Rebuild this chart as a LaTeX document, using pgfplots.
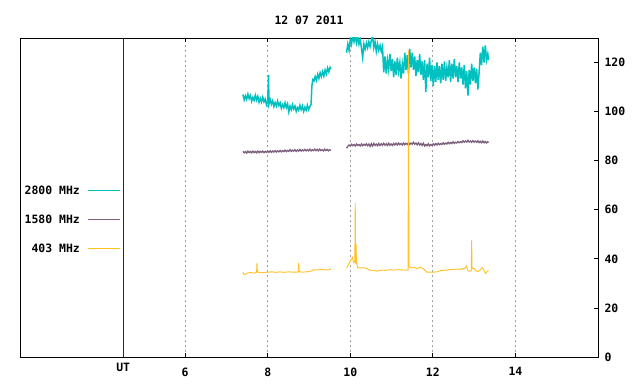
\documentclass[border=0pt]{standalone}
\usepackage{fontspec}
\setmainfont{DejaVu Sans Mono}
\usepackage{pgfplots}
\pgfplotsset{compat=1.18}
\definecolor{cteal}{RGB}{0,192,192}
\definecolor{cpurp}{RGB}{125,95,125}
\definecolor{cgold}{RGB}{255,192,32}
\definecolor{cut}{RGB}{140,0,0}
\definecolor{cgrid}{RGB}{160,160,160}
\begin{document}
\begin{tikzpicture}[font=\bfseries\fontsize{11.5}{13}\selectfont]
\begin{axis}[name=ax, scale only axis, width=578bp, height=319bp,
 xmin=2, xmax=16, ymin=0, ymax=130,
 xtick={6,8,10,12,14}, ytick={0,20,40,60,80,100,120},
 ytick pos=right, yticklabel pos=right,
 tick align=inside, major tick length=4bp,
 tick style={black, line width=0.8bp},
 xmajorgrids, grid style={cgrid, dash pattern=on 2bp off 3bp, line width=0.8bp},
 axis line style={line width=0.8bp},
 /pgf/number format/assume math mode=true,
 xticklabel style={yshift=-7bp},
 yticklabel style={xshift=3bp},
 extra x ticks={4.5}, extra x tick labels={UT},
 extra x tick style={grid=none, major tick length=0pt, xticklabel style={yshift=4.5bp}},
 title={12 07 2011}, title style={at={(0.5,1)}, anchor=base, yshift=7.5bp},
 unbounded coords=jump,
 every axis plot/.append style={line width=0.9bp, mark=none},
]
\addplot[cut, line width=0.8bp, forget plot] coordinates {(4.5,0) (4.5,130)};
% 2800 MHz
\addplot[cteal, line width=1.5bp] coordinates {
(7.40,107.0)(7.43,104.8)(7.46,106.4)(7.49,105.0)(7.52,107.1)(7.55,105.3)(7.58,106.5)(7.61,104.3)(7.64,105.8)(7.67,104.6)
(7.70,106.7)(7.73,104.7)(7.76,106.2)(7.79,103.8)(7.82,105.4)(7.85,103.9)(7.88,105.9)(7.91,104.0)(7.94,105.1)(7.97,102.8)
(8.00,104.2)(8.02,115.0)(8.03,103.0)(8.06,104.9)(8.09,103.0)(8.12,104.4)(8.15,102.1)(8.18,103.7)(8.21,102.3)(8.24,104.3)
(8.27,102.5)(8.30,103.6)(8.33,101.4)(8.36,102.8)(8.39,101.6)(8.42,103.6)(8.45,101.6)(8.48,103.1)(8.51,99.9)(8.54,102.3)
(8.57,100.8)(8.60,102.8)(8.63,101.1)(8.66,102.3)(8.69,100.1)(8.72,101.6)(8.75,100.5)(8.78,102.6)(8.81,100.8)(8.84,102.3)
(8.87,100.1)(8.90,101.8)(8.93,100.5)(8.96,102.6)(8.99,100.8)(9.02,102.0)(9.05,103.0)(9.07,110.5)(9.09,113.0)(9.12,112.5)
(9.15,114.3)(9.18,112.8)(9.21,115.2)(9.24,113.5)(9.27,115.9)(9.30,114.3)(9.33,116.3)(9.36,114.5)(9.39,116.9)(9.42,115.4)
(9.45,117.8)(9.48,116.2)(9.51,118.0)(9.53,117.3)
(9.70,nan)
(9.91,124.0)(9.94,127.5)(9.97,125.0)(10.00,129.5)(10.03,127.5)(10.06,131.0)(10.09,128.5)(10.12,131.0)(10.15,128.0)(10.18,130.5)
(10.21,127.5)(10.24,129.5)(10.27,126.0)(10.30,122.0)(10.33,127.5)(10.36,125.5)(10.39,128.0)(10.42,126.0)(10.45,128.5)(10.48,126.5)
(10.51,129.0)(10.54,131.0)(10.57,126.0)(10.60,128.5)(10.63,124.5)(10.66,127.5)(10.69,125.0)(10.72,127.0)(10.75,124.5)(10.78,126.5)
(10.81,116.0)(10.84,122.5)(10.87,115.5)(10.90,121.0)(10.93,117.0)(10.96,123.5)(10.99,116.5)(11.02,121.5)(11.05,114.0)(11.08,120.5)
(11.11,115.0)(11.14,122.0)(11.17,116.5)(11.20,120.0)(11.23,113.5)(11.26,119.5)(11.29,115.5)(11.32,124.0)(11.35,117.0)(11.38,123.0)
(11.41,115.5)(11.44,125.5)(11.47,118.0)(11.50,124.0)(11.53,117.0)(11.56,122.5)(11.59,114.5)(11.62,121.0)(11.65,116.0)(11.68,123.5)
(11.71,115.0)(11.74,120.5)(11.77,113.0)(11.80,121.0)(11.83,108.0)(11.86,119.5)(11.89,114.0)(11.92,122.0)(11.95,112.5)(11.98,119.0)
(12.01,110.5)(12.04,118.5)(12.07,112.0)(12.10,120.0)(12.13,113.0)(12.16,118.5)(12.19,111.5)(12.22,119.5)(12.25,113.0)(12.28,120.5)
(12.31,112.5)(12.34,118.0)(12.37,114.0)(12.40,121.0)(12.43,112.0)(12.46,119.5)(12.49,113.5)(12.52,121.5)(12.55,114.0)(12.58,118.5)
(12.61,112.0)(12.64,120.0)(12.67,113.5)(12.70,118.0)(12.73,111.0)(12.76,119.0)(12.79,109.5)(12.82,116.5)(12.85,106.5)(12.88,117.0)
(12.91,111.0)(12.94,119.5)(12.97,112.5)(13.00,118.0)(13.03,111.5)(13.06,117.5)(13.09,109.0)(13.12,116.0)(13.15,124.0)(13.18,119.0)
(13.21,126.5)(13.24,120.0)(13.27,127.0)(13.30,121.0)(13.33,123.5)(13.35,121.0)
};
% 1580 MHz
\addplot[cpurp, line width=1.3bp] coordinates {
(7.40,83.8)(7.43,83.2)(7.46,83.7)(7.49,83.1)(7.52,83.9)(7.55,83.3)(7.58,83.8)(7.61,83.2)(7.64,83.9)(7.67,83.3)
(7.70,83.8)(7.73,83.2)(7.76,83.9)(7.79,83.3)(7.82,83.8)(7.85,83.4)(7.88,83.9)(7.91,83.3)(7.94,83.8)(7.97,83.4)
(8.00,83.9)(8.03,83.4)(8.06,84.0)(8.09,83.4)(8.12,84.0)(8.15,83.5)(8.18,84.1)(8.21,83.5)(8.24,84.0)(8.27,83.6)
(8.30,84.2)(8.33,83.6)(8.36,84.1)(8.39,83.7)(8.42,84.3)(8.45,83.7)(8.48,84.2)(8.51,83.8)(8.54,84.5)(8.57,83.8)
(8.60,84.3)(8.63,83.9)(8.66,84.5)(8.69,83.8)(8.72,84.4)(8.75,83.9)(8.78,84.6)(8.81,83.9)(8.84,84.4)(8.87,84.0)
(8.90,84.6)(8.93,84.0)(8.96,84.5)(8.99,84.0)(9.02,84.7)(9.05,84.0)(9.08,84.5)(9.11,84.1)(9.14,84.7)(9.17,84.1)
(9.20,84.6)(9.23,84.0)(9.26,84.7)(9.29,84.1)(9.32,84.5)(9.35,84.0)(9.38,84.7)(9.41,84.1)(9.44,84.6)(9.47,84.0)
(9.50,84.5)(9.53,84.2)
(9.70,nan)
(9.91,85.1)(9.94,85.9)(9.97,86.4)(10.00,86.0)(10.03,86.7)(10.06,86.1)(10.09,86.6)(10.12,86.0)(10.15,86.8)(10.18,86.2)
(10.21,86.6)(10.24,86.0)(10.27,86.8)(10.30,86.1)(10.33,86.7)(10.36,86.2)(10.39,86.9)(10.42,86.1)(10.45,86.8)(10.48,85.8)
(10.51,86.9)(10.54,86.0)(10.57,87.0)(10.60,86.2)(10.63,86.8)(10.66,86.1)(10.69,87.0)(10.72,86.2)(10.75,86.9)(10.78,86.3)
(10.81,87.1)(10.84,86.3)(10.87,86.9)(10.90,86.2)(10.93,87.1)(10.96,86.3)(10.99,86.8)(11.02,86.2)(11.05,87.0)(11.08,86.4)
(11.11,87.1)(11.14,86.4)(11.17,87.2)(11.20,86.5)(11.23,87.0)(11.26,86.4)(11.29,87.2)(11.32,86.5)(11.35,87.1)(11.38,86.6)
(11.41,87.4)(11.44,86.6)(11.47,87.2)(11.50,86.7)(11.53,87.5)(11.56,86.7)(11.59,87.2)(11.62,86.5)(11.65,87.3)(11.68,86.4)
(11.71,87.0)(11.74,86.2)(11.77,87.1)(11.80,86.0)(11.83,86.6)(11.86,86.1)(11.89,86.9)(11.92,86.0)(11.95,86.6)(11.98,86.2)
(12.01,86.9)(12.04,86.3)(12.07,87.0)(12.10,86.4)(12.13,87.1)(12.16,86.5)(12.19,87.0)(12.22,86.6)(12.25,87.3)(12.28,86.7)
(12.31,87.2)(12.34,86.8)(12.37,87.5)(12.40,86.9)(12.43,87.4)(12.46,87.0)(12.49,87.7)(12.52,87.1)(12.55,87.5)(12.58,87.2)
(12.61,87.8)(12.64,87.3)(12.67,87.7)(12.70,87.4)(12.73,88.1)(12.76,87.5)(12.79,88.0)(12.82,87.6)(12.85,88.3)(12.88,87.6)
(12.91,88.0)(12.94,87.5)(12.97,88.2)(13.00,87.6)(13.03,88.0)(13.06,87.5)(13.09,88.1)(13.12,87.4)(13.15,87.9)(13.18,87.3)
(13.21,88.0)(13.24,87.3)(13.27,87.8)(13.30,87.2)(13.33,87.7)(13.35,87.4)
};
% 403 MHz
\addplot[cgold] coordinates {
(7.40,34.5)(7.43,33.6)(7.47,33.8)(7.52,34.3)(7.60,34.4)(7.68,34.2)(7.73,34.5)(7.74,38.3)(7.75,34.8)(7.80,34.3)
(7.90,34.4)(8.00,34.6)(8.10,34.7)(8.20,34.5)(8.30,34.7)(8.40,34.5)(8.50,34.7)(8.60,34.6)(8.70,34.6)(8.74,34.7)
(8.75,38.3)(8.76,34.7)(8.85,34.6)(8.95,34.7)(9.05,35.0)(9.10,35.5)(9.20,35.5)(9.30,35.7)(9.40,35.5)(9.50,35.6)(9.53,36.0)
(9.70,nan)
(9.91,36.3)(9.95,37.5)(10.00,39.0)(10.05,40.6)(10.08,38.5)(10.11,39.0)(10.12,62.7)(10.13,38.0)(10.14,46.0)(10.15,38.5)
(10.18,36.3)(10.25,36.3)(10.35,36.3)(10.40,36.0)(10.45,35.5)(10.55,35.3)(10.65,35.0)(10.75,35.4)(10.85,35.3)(10.95,35.6)
(11.05,35.4)(11.15,35.6)(11.25,35.5)(11.35,35.4)(11.40,35.5)(11.41,125.0)(11.42,37.0)(11.47,36.3)(11.55,36.5)(11.62,36.0)
(11.70,36.6)(11.78,35.8)(11.85,34.6)(11.95,34.6)(12.05,34.6)(12.12,34.8)(12.20,35.3)(12.30,35.3)(12.40,35.6)(12.50,35.7)
(12.60,35.8)(12.70,35.8)(12.78,36.2)(12.81,37.0)(12.85,35.2)(12.90,35.0)(12.93,35.2)(12.94,47.5)(12.95,36.0)(13.00,36.0)
(13.05,35.0)(13.10,34.9)(13.15,35.6)(13.20,36.4)(13.24,35.3)(13.28,34.0)(13.32,35.0)(13.35,35.2)
};
% legend
\node[anchor=east, inner sep=0pt] at (axis description cs:0.1038,0.5235) {2800 MHz};
\node[anchor=east, inner sep=0pt] at (axis description cs:0.1038,0.4326) {1580 MHz};
\node[anchor=east, inner sep=0pt] at (axis description cs:0.1038,0.3417) {403 MHz};
\draw[cteal, line width=0.9bp] (axis description cs:0.1176,0.5235) -- (axis description cs:0.173,0.5235);
\draw[cpurp, line width=0.9bp] (axis description cs:0.1176,0.4326) -- (axis description cs:0.173,0.4326);
\draw[cgold, line width=0.9bp] (axis description cs:0.1176,0.3417) -- (axis description cs:0.173,0.3417);
\end{axis}
\pgfresetboundingbox
\path ([shift={(-20bp,-27bp)}]ax.south west) rectangle ([shift={(42bp,38bp)}]ax.north east);
\end{tikzpicture}
\end{document}
